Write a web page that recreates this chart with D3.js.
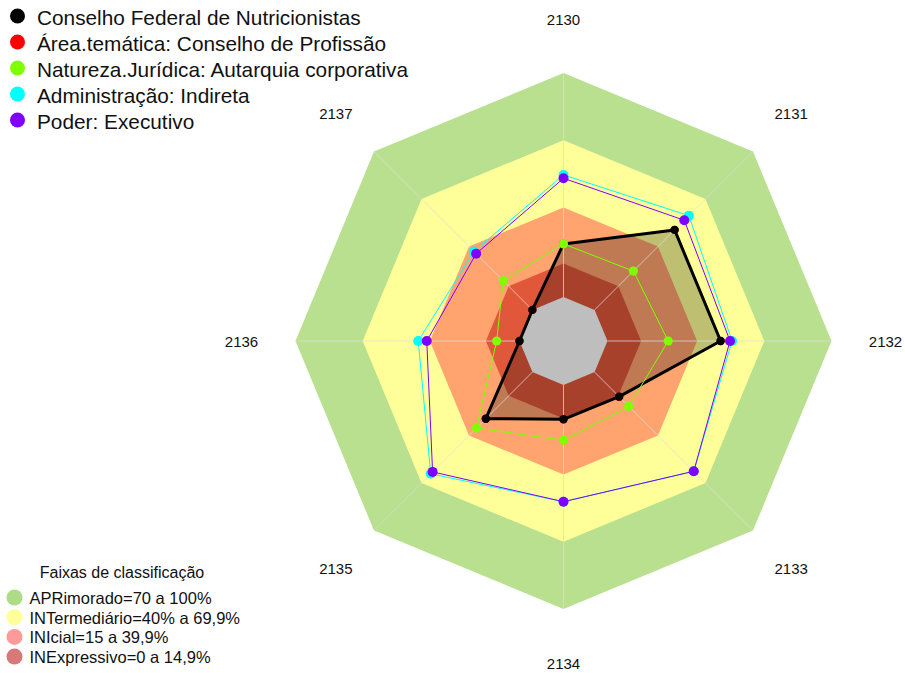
<!DOCTYPE html>
<html>
<head>
<meta charset="utf-8">
<style>
  body { margin: 0; background: #fff; }
  svg text { font-family: "Liberation Sans", Arial, sans-serif; fill: #111; }
</style>
</head>
<body>
<script src="https://cdn.jsdelivr.net/npm/d3@7"></script>
<script>
// axes of the radar, clockwise from the top
var axes = ["2130", "2131", "2132", "2133", "2134", "2135", "2136", "2137"];

// series values (percent)
var seriesNames = ["Conselho Federal de Nutricionistas",
                   "Área.temática: Conselho de Profissão",
                   "Natureza.Jurídica: Autarquia corporativa",
                   "Administração: Indireta",
                   "Poder: Executivo"];
var seriesColors = ["#000000", "#ff0000", "#7fff00", "#00ffff", "#7f00ff"];
var conselho   = [23.7, 50.5, 50.5, 15.5, 15.3, 29.4, 0, 0];
var areaTemat  = [23.7, 50.5, 50.5, 15.5, 15.3, 29.4, 0, 0];
var natureza   = [23.7, 24.5, 27.1, 21.6, 24.7, 35.3, 10.2, 18.4];
var adminInd   = [54.5, 59.5, 55.6, 62.6, 52.1, 64.2, 45.2, 36.9];
var poderExec  = [53.0, 56.6, 54.7, 62.6, 52.1, 63.0, 41.4, 35.5];

// classification bands
var bandNames  = ["APRimorado=70 a 100%", "INTermediário=40% a 69,9%",
                  "INIcial=15 a 39,9%", "INExpressivo=0 a 14,9%"];
var bandTops   = [100, 70, 40, 15];
var bandFill   = ["#b9e08f", "#ffff99", "#ffa36f", "#e0573a"];
var bandLegend = ["#addb86", "#ffff9a", "#ff9a9a", "#d87878"];

var width = 905, height = 673;
var cx = 563.5, cy = 341;

var svg = d3.select("body").append("svg")
  .attr("width", width).attr("height", height);

var g = svg.append("g").attr("transform", "translate(" + cx + "," + cy + ")");

var r = d3.scaleLinear().domain([0, 100]).range([44, 268]);
var angle = d3.scaleLinear().domain([0, axes.length]).range([0, 2 * Math.PI]);

function ring(v) {
  return d3.lineRadial()
    .angle(function(d, i) { return angle(i); })
    .radius(function() { return r(v); })
    .curve(d3.curveLinearClosed)(axes);
}
var radar = d3.lineRadial()
  .angle(function(d, i) { return angle(i); })
  .radius(function(d) { return r(d); })
  .curve(d3.curveLinearClosed);

// bands
g.selectAll(".band").data(bandTops).enter().append("path")
  .attr("d", function(d) { return ring(d); })
  .attr("fill", function(d, i) { return bandFill[i]; });

// fill of the first series
g.append("path").attr("d", radar(conselho))
  .attr("fill", "rgba(0,0,0,0.25)");

// centre hole
g.append("path").attr("d", ring(0)).attr("fill", "#bebebe");

// spokes
g.selectAll(".spoke").data(axes).enter().append("line")
  .attr("x1", function(d, i) { return r(0) * Math.sin(angle(i)); })
  .attr("y1", function(d, i) { return -r(0) * Math.cos(angle(i)); })
  .attr("x2", function(d, i) { return r(100) * Math.sin(angle(i)); })
  .attr("y2", function(d, i) { return -r(100) * Math.cos(angle(i)); })
  .attr("stroke", "#dcdcdc").attr("stroke-opacity", 0.75).attr("stroke-width", 1);

// axis labels
g.selectAll(".lab").data(axes).enter().append("text")
  .attr("x", function(d, i) { return 322 * Math.sin(angle(i)); })
  .attr("y", function(d, i) { return -322 * Math.cos(angle(i)); })
  .attr("text-anchor", "middle").attr("dominant-baseline", "central")
  .style("font-size", "15px")
  .text(function(d) { return d; });

// series, drawn so that the red one sits under the black one
var allSeries = [conselho, areaTemat, natureza, adminInd, poderExec];
var drawOrder = [1, 0, 2, 3, 4];
var lineW = [3, 1, 1, 1, 1];
var dotR = [4.2, 4.2, 4.6, 5, 5];

drawOrder.forEach(function(k) {
  var vals = allSeries[k];
  g.append("path").attr("d", radar(vals))
    .attr("fill", "none")
    .attr("stroke", seriesColors[k])
    .attr("stroke-width", lineW[k])
    .attr("stroke-linejoin", "round");
  g.selectAll(".pt" + k).data(vals).enter().append("circle")
    .attr("cx", function(d, i) { return r(d) * Math.sin(angle(i)); })
    .attr("cy", function(d, i) { return -r(d) * Math.cos(angle(i)); })
    .attr("r", dotR[k])
    .attr("fill", seriesColors[k]);
});

// series legend (top left)
var leg = svg.append("g");
leg.selectAll("circle").data(seriesNames).enter().append("circle")
  .attr("cx", 17.5).attr("cy", function(d, i) { return 16 + 26 * i; })
  .attr("r", 7.5)
  .attr("fill", function(d, i) { return seriesColors[i]; });
leg.selectAll("text").data(seriesNames).enter().append("text")
  .attr("x", 37).attr("y", function(d, i) { return 17 + 26 * i; })
  .attr("dominant-baseline", "central")
  .style("font-size", "20.8px")
  .text(function(d) { return d; });

// band legend (bottom left)
var leg2 = svg.append("g");
leg2.append("text")
  .attr("x", 122).attr("y", 572)
  .attr("text-anchor", "middle").attr("dominant-baseline", "central")
  .style("font-size", "16px")
  .text("Faixas de classificação");
leg2.selectAll("circle").data(bandNames).enter().append("circle")
  .attr("cx", 14.5).attr("cy", function(d, i) { return 597.5 + 19.7 * i; })
  .attr("r", 8)
  .attr("fill", function(d, i) { return bandLegend[i]; });
leg2.selectAll("text.item").data(bandNames).enter().append("text")
  .attr("class", "item")
  .attr("x", 29.5).attr("y", function(d, i) { return 598 + 19.7 * i; })
  .attr("dominant-baseline", "central")
  .style("font-size", "16.5px")
  .text(function(d) { return d; });
</script>
</body>
</html>
